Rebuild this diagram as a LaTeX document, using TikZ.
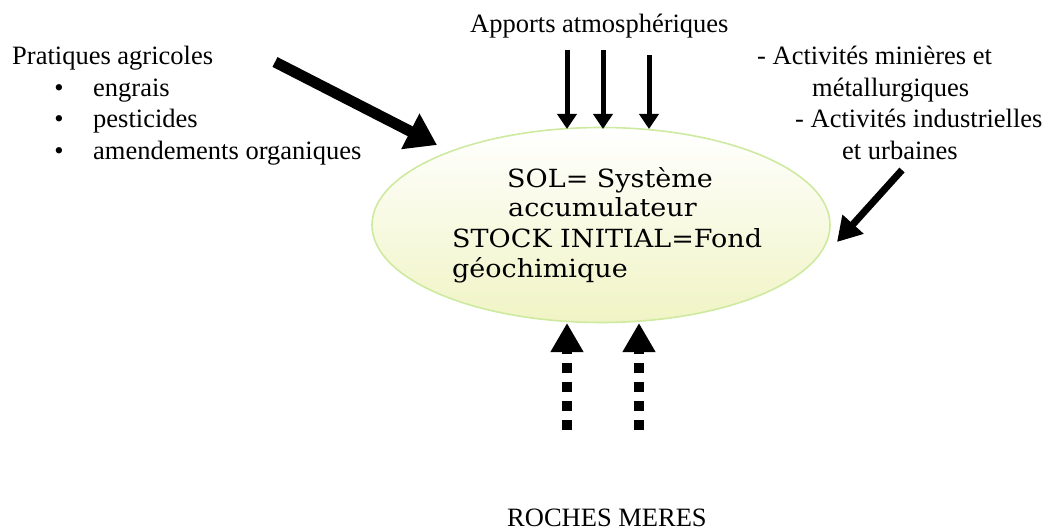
\documentclass[tikz,border=0pt]{standalone}
\usepackage{fontspec}
\setmainfont{Liberation Serif}
\newfontfamily\solfont[FakeStretch=1.08]{DejaVu Serif}
\usetikzlibrary{arrows.meta,shapes.geometric}
\definecolor{solfill}{RGB}{240,244,196}
\definecolor{solborder}{RGB}{206,234,160}
\tikzset{
  lbl/.style={anchor=base west, inner sep=0pt, font=\fontsize{26.5}{31.7}\selectfont},
  bul/.style={anchor=base, inner sep=0pt, font=\fontsize{26.5}{31.7}\selectfont},
  soltxt/.style={anchor=base west, inner sep=0pt, font=\solfont\fontsize{25}{30}\selectfont},
  thinarrow/.style={line width=5pt, -{Triangle[length=15pt,width=19pt]}},
  bigarrow/.style={line width=11pt, -{Triangle[length=30pt,width=38pt]}},
  midarrow/.style={line width=7pt, -{Triangle[length=24pt,width=27pt]}},
  dotarrow/.style={line width=10pt, dash pattern=on 10pt off 9pt, -{Triangle[length=29pt,width=31pt]}}
}
\begin{document}
\begin{tikzpicture}[x=1pt,y=-1pt]
\useasboundingbox (0,0) rectangle (1057,532);
% ellipse
\node[ellipse, draw=solborder, line width=1.6pt, top color=white, bottom color=solfill,
      minimum width=458pt, minimum height=195pt, inner sep=0pt] (sol) at (601,225) {};
\node[soltxt] (s1) at (507,187) {SOL= Système};
\node[soltxt] (s2) at (508,216) {accumulateur};
\node[soltxt] (s3) at (452,247) {STOCK INITIAL=Fond};
\node[soltxt] (s4) at (452,277) {géochimique};
% left text
\node[lbl] (pa) at (12,65) {Pratiques agricoles};
\node[bul] (b1) at (59,97) {•};
\node[bul] (b2) at (59,128) {•};
\node[bul] (b3) at (59,160) {•};
\node[lbl] (l1) at (93,97) {engrais};
\node[lbl] (l2) at (93,128) {pesticides};
\node[lbl] (l3) at (93,160) {amendements organiques};
% top text
\node[lbl] (aa) at (470,33) {Apports atmosphériques};
% right text
\node[lbl] (r1) at (757,65) {- Activités minières et};
\node[lbl] (r2) at (812,97) {métallurgiques};
\node[lbl] (r3) at (795,128) {- Activités industrielles};
\node[lbl] (r4) at (842,160) {et urbaines};
% bottom text
\node[lbl] (rm) at (507,526) {ROCHES MERES};
% coordinates
\coordinate (bigA) at (275,62);
\coordinate (bigB) at (437,145);
\coordinate (d1a) at (567,50);
\coordinate (d1b) at (567,129);
\coordinate (d2a) at (603,50);
\coordinate (d2b) at (603,129);
\coordinate (d3a) at (649,55);
\coordinate (d3b) at (649,129);
\coordinate (rA) at (902,170);
\coordinate (rB) at (837,242);
\coordinate (u1a) at (567,430);
\coordinate (u1b) at (567,323);
\coordinate (u2a) at (639,430);
\coordinate (u2b) at (639,323);
% arrows
\draw[bigarrow] (bigA) -- (bigB);
\draw[thinarrow] (d1a) -- (d1b);
\draw[thinarrow] (d2a) -- (d2b);
\draw[thinarrow] (d3a) -- (d3b);
\draw[midarrow] (rA) -- (rB);
\draw[dotarrow] (u1a) -- (u1b);
\draw[dotarrow] (u2a) -- (u2b);
\end{tikzpicture}
\end{document}
